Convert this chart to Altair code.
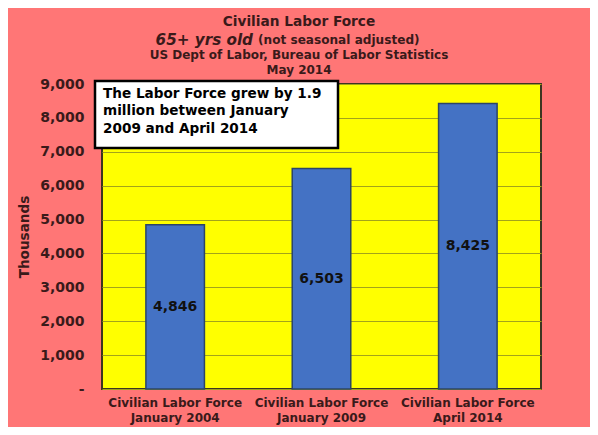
import altair as alt
import pandas as pd

# ---- data ----
series_name = ["Civilian Labor Force", "Civilian Labor Force", "Civilian Labor Force"]
periods = ["January 2004", "January 2009", "April 2014"]
values = [4846, 6503, 8425]
y_ticks = [0, 1000, 2000, 3000, 4000, 5000, 6000, 7000, 8000, 9000]

title_line1 = "Civilian Labor Force"
title_line2a = "65+ yrs old"
title_line2b = "(not seasonal adjusted)"
title_line3 = "US Dept of Labor, Bureau of Labor Statistics"
title_line4 = "May 2014"
annotation_lines = ["The Labor Force grew by 1.9", "million between January", "2009 and April 2014"]
y_title = "Thousands"

FONT = "DejaVu Sans"
TXT = "#3a1a1a"

df = pd.DataFrame({
    "cat": [f"{s}|{p}" for s, p in zip(series_name, periods)],
    "value": values,
})

yscale = alt.Scale(domain=[0, 9000], nice=False)
xscale = alt.Scale(paddingInner=0.6, paddingOuter=0.3)

xaxis = alt.Axis(labelExpr="split(datum.label, '|')", labelAngle=0, labelFont=FONT,
                 labelFontSize=12, labelFontWeight="bold", labelColor=TXT,
                 labelLineHeight=15, labelBaseline="top", labelPadding=8,
                 ticks=False, domain=False, grid=False)
yaxis = alt.Axis(values=y_ticks,
                 labelExpr="datum.value == 0 ? '-' : format(datum.value, ',')",
                 labelOverlap=False,
                 labelFont=FONT, labelFontSize=14, labelFontWeight="bold", labelColor=TXT,
                 labelPadding=18, ticks=False, domain=False,
                 grid=True, gridColor="#a3a31a", gridWidth=1,
                 titleFont=FONT, titleFontSize=13.6, titleFontWeight="bold", titleColor=TXT,
                 titleX=-78, titleY=152.5, titleAngle=270, titleAlign="center",
                 titleBaseline="middle")

bars = alt.Chart(df).mark_bar(color="#4472C4", stroke="#2c4566", strokeWidth=1.5).encode(
    x=alt.X("cat:N", sort=None, title=None, scale=xscale, axis=xaxis),
    y=alt.Y("value:Q", title=y_title, scale=yscale, axis=yaxis),
)

labels = alt.Chart(df).transform_calculate(mid="datum.value / 2").mark_text(
    font=FONT, fontSize=14, fontWeight="bold", color="#111111"
).encode(
    x=alt.X("cat:N", sort=None, title=None, scale=xscale, axis=xaxis),
    y=alt.Y("mid:Q", title=y_title, scale=yscale, axis=yaxis),
    text=alt.Text("value:Q", format=","),
)

one = pd.DataFrame({"t": [0]})

box = alt.Chart(one).mark_rect(fill="white", stroke="black", strokeWidth=2.5).encode(
    x=alt.value(-7), x2=alt.value(236), y=alt.value(-3), y2=alt.value(64)
)
ann = alt.Chart(pd.DataFrame({"t": ["\n".join(annotation_lines)]})).mark_text(
    font=FONT, fontSize=13.6, fontWeight="bold", color="black",
    align="left", baseline="top", lineBreak="\n", lineHeight=17.5
).encode(text="t:N", x=alt.value(1), y=alt.value(2.5))


def ttext(s, x, y, size, align="center", style="normal"):
    return alt.Chart(pd.DataFrame({"t": [s]})).mark_text(
        font=FONT, fontSize=size, fontWeight="bold", fontStyle=style, color=TXT,
        align=align, baseline="middle"
    ).encode(text="t:N", x=alt.value(x), y=alt.value(y))


t1 = ttext(title_line1, 197, -62.5, 13.7)
t2a = ttext(title_line2a, 151, -44, 15.2, align="right", style="italic")
t2b = ttext(title_line2b, 156, -44, 12.1, align="left")
t3 = ttext(title_line3, 197, -29, 12)
t4 = ttext(title_line4, 197, -14, 12)

chart = alt.layer(bars, labels, box, ann, t1, t2a, t2b, t3, t4).properties(
    width=439, height=305,
    padding={"left": 94, "top": 76, "right": 49, "bottom": 38},
    autosize=alt.AutoSizeParams(type="none"),
    background="#ff7676",
).configure_view(
    fill="#ffff00", stroke="#3d3520", strokeWidth=2
)

chart.save("out.html", embed_options={"renderer": "svg", "actions": False})
